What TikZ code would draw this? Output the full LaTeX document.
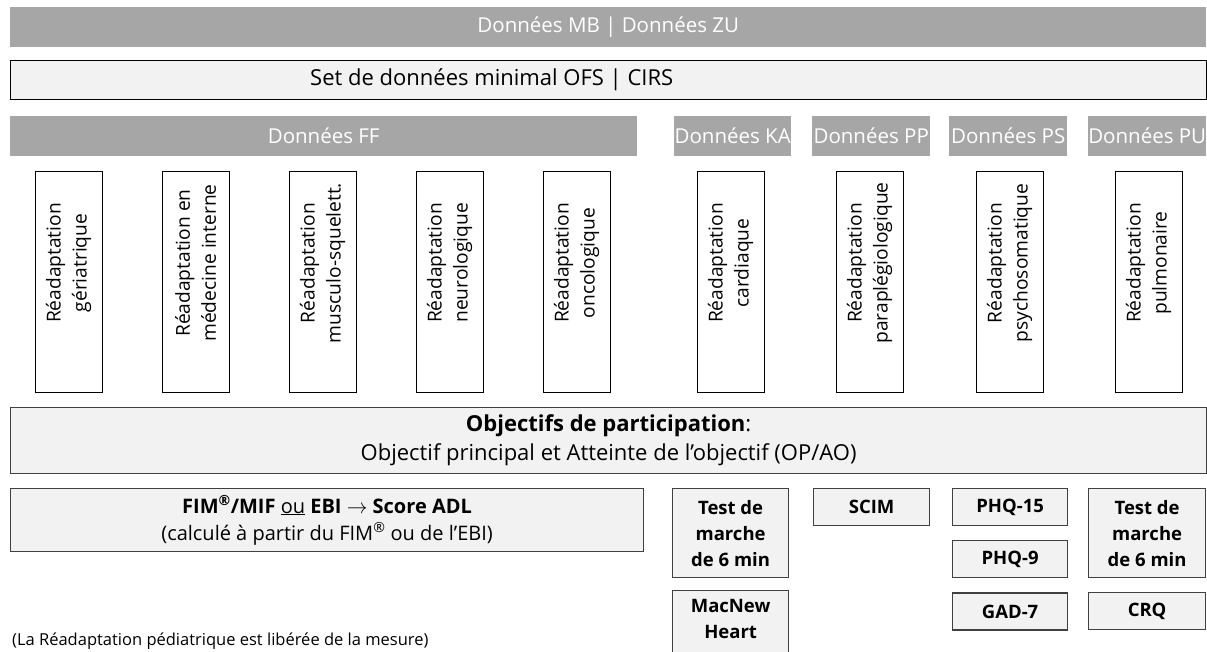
\documentclass[tikz,border=0pt]{standalone}
\usepackage{fontspec}
\setmainfont{Open Sans}
\usetikzlibrary{positioning}

\definecolor{bargray}{HTML}{A6A6A6}
\definecolor{boxgray}{HTML}{F2F2F2}
\definecolor{edgegray}{HTML}{404040}

\begin{document}
\begin{tikzpicture}[
    x=1pt, y=-1pt,
    font=\fontsize{22}{29}\selectfont,
    node distance=14pt,
    databar/.style={rectangle, fill=bargray, text=white, inner sep=0pt,
        anchor=north west, minimum height=40, font=\fontsize{20.5}{24}\selectfont},
    setbox/.style={rectangle, draw=black, line width=1.2pt, fill=boxgray,
        anchor=north west, minimum width=1196, minimum height=39},
    colbox/.style={rectangle, draw=black, line width=1pt, fill=white,
        minimum width=67, minimum height=220},
    coltext/.style={rotate=90, align=center, inner sep=0pt,
        font=\fontsize{19.2}{26}\selectfont},
    goalbox/.style={rectangle, draw=edgegray, line width=1.2pt, fill=boxgray,
        anchor=north west, align=center, inner sep=0pt},
    testbox/.style={goalbox, font=\fontsize{18.5}{26}\selectfont\bfseries,
        minimum width=116},
    smallbox/.style={testbox, minimum height=37},
    tallbox/.style={testbox, minimum height=89}
]

\useasboundingbox (0,0) rectangle (1207,652);
\clip (0,0) rectangle (1207,652);

% Top rows
\node[databar, minimum width=1196] (mbzu) at (10,7) {Données MB | Données ZU};
\node[setbox] (ofs) at (10,60) {};
\node[anchor=west, inner sep=0pt] (ofstxt) at (310,80) {Set de données minimal OFS | CIRS};

\node[databar, minimum width=627] (ff) at (10,116) {Données FF};
\node[databar, minimum width=117] (ka) at (674,116) {Données KA};
\node[databar, minimum width=118] (pp) at (812,116) {Données PP};
\node[databar, minimum width=118] (ps) at (949,116) {Données PS};
\node[databar, minimum width=118] (pu) at (1088,116) {Données PU};

% Rehabilitation columns
\node[colbox] (geri) at (68.5,282) {};
\node[colbox] (inte) at (195.5,282) {};
\node[colbox] (musc) at (322.5,282) {};
\node[colbox] (neur) at (449.5,282) {};
\node[colbox] (onco) at (576.5,282) {};
\node[colbox] (card) at (730.5,282) {};
\node[colbox] (para) at (869.5,282) {};
\node[colbox] (psyc) at (1009.5,282) {};
\node[colbox] (pulm) at (1148.5,282) {};

\node[coltext] (geritxt) at ([yshift=19]geri.center) {Réadaptation\\gériatrique};
\node[coltext] (intetxt) at ([yshift=19]inte.center) {Réadaptation en\\médecine interne};
\node[coltext] (musctxt) at ([yshift=19]musc.center) {Réadaptation\\musculo-squelett.};
\node[coltext] (neurtxt) at ([yshift=19]neur.center) {Réadaptation\\neurologique};
\node[coltext] (oncotxt) at ([yshift=19]onco.center) {Réadaptation\\oncologique};
\node[coltext] (cardtxt) at ([yshift=19]card.center) {Réadaptation\\cardiaque};
\node[coltext] (paratxt) at ([yshift=19]para.center) {Réadaptation\\paraplégiologique};
\node[coltext] (psyctxt) at ([yshift=19]psyc.center) {Réadaptation\\psychosomatique};
\node[coltext] (pulmtxt) at ([yshift=19]pulm.center) {Réadaptation\\pulmonaire};

% Participation goals
\node[goalbox, minimum width=1196, minimum height=66] (goals) at (10,407)
    {\textbf{Objectifs de participation}:\\Objectif principal et Atteinte de l’objectif (OP/AO)};

% Measures
\node[goalbox, minimum width=633, minimum height=63,
    font=\fontsize{20}{27}\selectfont] (adl) at (10,488)
    {\textbf{FIM\textsuperscript{®}/MIF} \underline{ou} \textbf{EBI} $\rightarrow$ \textbf{Score ADL}\\(calculé à partir du FIM\textsuperscript{®} ou de l’EBI)};

\node[tallbox] (walkka) at (672,488) {Test de\\marche\\de 6 min};
\node[tallbox, below=12pt of walkka] (macnew) {MacNew\\Heart\\\strut};
\node[smallbox] (scim) at (813,488) {SCIM};
\node[smallbox, minimum width=115] (phqa) at (952,488) {PHQ-15};
\node[smallbox, minimum width=115, below=of phqa] (phqb) {PHQ-9};
\node[smallbox, minimum width=115, below=of phqb] (gad) {GAD-7};
\node[tallbox, minimum width=117] (walkpu) at (1088,488) {Test de\\marche\\de 6 min};
\node[smallbox, minimum width=117, below=of walkpu] (crq) {CRQ};

% Note
\node[anchor=west, inner sep=0pt, font=\fontsize{16.5}{20}\selectfont] (note) at (12,641)
    {(La Réadaptation pédiatrique est libérée de la mesure)};

\end{tikzpicture}
\end{document}
